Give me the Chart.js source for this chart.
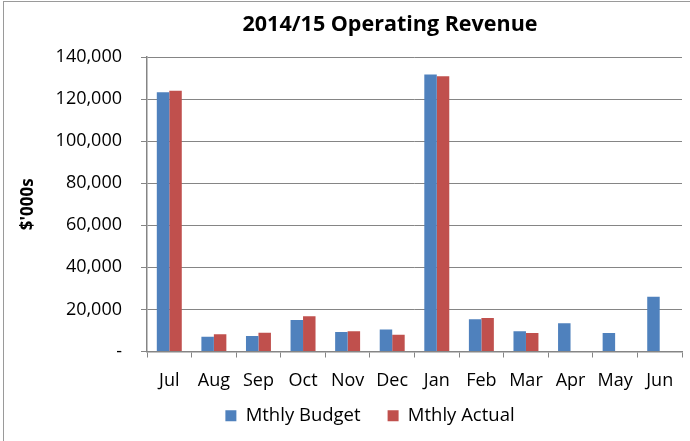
<!DOCTYPE html>
<html>
<head>
<meta charset="utf-8">
<script src="https://cdn.jsdelivr.net/npm/chart.js@4"></script>
<style>
  html, body { margin: 0; padding: 0; background: #fff; }
  #wrap { position: relative; width: 690px; height: 441px; overflow: hidden; }
  #frame { position: absolute; left: 3px; top: 1px; width: 700px; height: 460px;
           border-left: 1px solid #9a9a9a; border-top: 1px solid #9a9a9a; pointer-events: none; }
  canvas { position: absolute; left: 0; top: 0; }
</style>
</head>
<body>
<div id="wrap">
  <canvas id="c" width="690" height="441"></canvas>
  <div id="frame"></div>
</div>
<script>
const chartTitle = "2014/15 Operating Revenue";
const yAxisTitle = "$'000s";
const months = ["Jul","Aug","Sep","Oct","Nov","Dec","Jan","Feb","Mar","Apr","May","Jun"];
const budget = [123300, 7000, 7400, 15000, 9300, 10500, 131700, 15300, 9600, 13400, 8800, 26000];
const actual = [124000, 8200, 8900, 16700, 9600, 8000, 130900, 15900, 8800, null, null, null];
const seriesNames = ["Mthly Budget", "Mthly Actual"];
const yTicks = [0, 20000, 40000, 60000, 80000, 100000, 120000, 140000];

const FONT = "'Open Sans', 'DejaVu Sans', sans-serif";
const GRID = "#858585";

// Title drawn at the same off-centre position as in the original chart
const titlePlugin = {
  id: "offTitle",
  afterDraw(chart) {
    const ctx = chart.ctx;
    ctx.save();
    ctx.font = "bold 21.5px " + FONT;
    ctx.fillStyle = "#000";
    ctx.textAlign = "center";
    ctx.textBaseline = "middle";
    ctx.fillText(chartTitle, 390, 25);
    ctx.restore();
  }
};

// Move the legend box to where the original chart places it
const legendShift = {
  id: "legendShift",
  afterLayout(chart) {
    const L = chart.legend;
    if (!L) return;
    const dx = 29;
    L.left += dx; L.right += dx;
    L.top = 379.5; L.bottom = chart.height;
  }
};

new Chart(document.getElementById("c"), {
  type: "bar",
  data: {
    labels: months,
    datasets: [
      { label: seriesNames[0], data: budget, backgroundColor: "#4F81BD", borderWidth: 0 },
      { label: seriesNames[1], data: actual, backgroundColor: "#C0504D", borderWidth: 0 }
    ]
  },
  plugins: [titlePlugin, legendShift],
  options: {
    responsive: false,
    animation: false,
    devicePixelRatio: 1,
    layout: { padding: { left: 0, right: 8, top: 57, bottom: 9.5 } },
    datasets: { bar: { barPercentage: 1.0, categoryPercentage: 0.56 } },
    plugins: {
      title: { display: false },
      legend: {
        position: "bottom",
        maxHeight: 38,
        labels: {
          color: "#000", boxWidth: 11, boxHeight: 11, padding: 27,
          font: { family: FONT, size: 18.5 }
        }
      },
      tooltip: { enabled: false }
    },
    scales: {
      x: {
        grid: { display: true, drawOnChartArea: false, drawTicks: true, tickLength: 6, color: GRID, lineWidth: 1, offset: true },
        border: { display: true, color: GRID, width: 1.5 },
        ticks: { color: "#000", padding: 13, maxRotation: 0, font: { family: FONT, size: 18 } },
        afterFit: (s) => { s.height = 42; }
      },
      y: {
        min: 0, max: 140000,
        afterBuildTicks: (s) => { s.ticks = yTicks.map(v => ({ value: v })); },
        grid: { color: GRID, lineWidth: 1, tickLength: 6, drawTicks: true },
        border: { display: true, color: GRID, width: 1.5 },
        ticks: {
          color: "#000", padding: 19, font: { family: FONT, size: 18 },
          callback: (v) => v === 0 ? "-" : v.toLocaleString("en-US")
        },
        title: {
          display: true, text: yAxisTitle, color: "#000",
          font: { family: FONT, size: 17, weight: "bold" },
          padding: { top: 18, bottom: 0 }
        },
        afterFit: (s) => { s.width = 147; }
      }
    }
  }
});
</script>
</body>
</html>
